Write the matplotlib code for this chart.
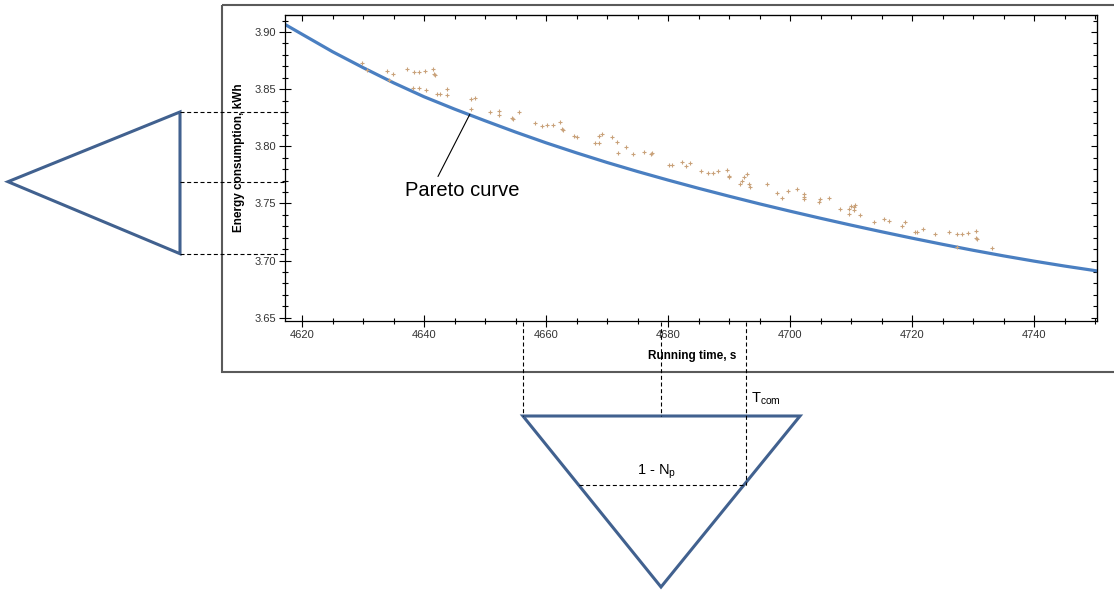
import matplotlib.pyplot as plt
from matplotlib.ticker import MultipleLocator, FormatStrFormatter, NullFormatter
from matplotlib.patches import Polygon, Rectangle

plt.rcParams['font.family'] = ['Liberation Sans', 'DejaVu Sans']
plt.rcParams['lines.scale_dashes'] = False
plt.rcParams['mathtext.default'] = 'regular'

# Pareto curve
curve_time = [4617, 4620, 4625, 4630, 4635, 4640, 4645, 4650, 4655, 4660,
              4665, 4670, 4675, 4680, 4685, 4690, 4695, 4700, 4705, 4710,
              4715, 4720, 4725, 4730, 4735, 4740, 4745, 4751]
curve_energy = [3.9072, 3.8980, 3.8827, 3.8688, 3.8555, 3.8433, 3.8325, 3.8223, 3.8124, 3.8030,
                3.7942, 3.7858, 3.7779, 3.7704, 3.7632, 3.7563, 3.7496, 3.7432, 3.7370, 3.7310,
                3.7252, 3.7196, 3.7142, 3.7090, 3.7041, 3.6995, 3.6952, 3.6904]

# simulated running points
sim_time = [4629.9, 4630.6, 4634.0, 4634.9, 4634.3, 4637.2, 4638.4, 4639.2, 4640.2, 4641.4,
            4641.6, 4641.8, 4638.1, 4639.2, 4640.3, 4642.1, 4642.6, 4643.8, 4643.7, 4647.7,
            4648.4, 4647.7, 4650.8, 4652.2, 4652.2, 4654.4, 4654.6, 4655.6, 4658.1, 4659.3,
            4660.2, 4661.1, 4662.3, 4662.6, 4662.7, 4664.6, 4665.0, 4668.6, 4669.1, 4668.0,
            4668.7, 4670.8, 4671.6, 4671.8, 4673.1, 4674.3, 4676.1, 4677.2, 4677.4, 4680.2,
            4680.7, 4682.3, 4683.0, 4683.6, 4685.4, 4686.6, 4687.4, 4688.2, 4689.6, 4689.9,
            4690.0, 4691.8, 4692.1, 4692.5, 4692.9, 4693.2, 4693.4, 4696.2, 4697.9, 4698.6,
            4699.7, 4701.1, 4702.2, 4702.3, 4702.2, 4704.7, 4704.9, 4706.4, 4708.1, 4709.6,
            4709.9, 4710.6, 4710.4, 4710.4, 4709.7, 4711.5, 4713.8, 4715.4, 4716.2, 4718.4,
            4718.9, 4720.4, 4720.8, 4721.7, 4723.8, 4726.1, 4727.4, 4728.2, 4729.1, 4730.4,
            4730.5, 4730.7, 4727.3, 4733.1]
sim_energy = [3.873, 3.867, 3.866, 3.863, 3.858, 3.868, 3.865, 3.865, 3.866, 3.868,
              3.863, 3.862, 3.851, 3.851, 3.849, 3.846, 3.846, 3.850, 3.845, 3.841,
              3.842, 3.833, 3.830, 3.831, 3.827, 3.825, 3.824, 3.830, 3.820, 3.818,
              3.819, 3.819, 3.821, 3.815, 3.814, 3.809, 3.808, 3.809, 3.811, 3.803,
              3.803, 3.808, 3.804, 3.794, 3.799, 3.793, 3.795, 3.793, 3.794, 3.784,
              3.784, 3.786, 3.783, 3.785, 3.778, 3.777, 3.777, 3.778, 3.779, 3.774,
              3.773, 3.767, 3.770, 3.773, 3.776, 3.767, 3.764, 3.767, 3.759, 3.755,
              3.761, 3.763, 3.758, 3.756, 3.754, 3.751, 3.754, 3.755, 3.745, 3.745,
              3.748, 3.749, 3.747, 3.744, 3.741, 3.740, 3.734, 3.736, 3.735, 3.730,
              3.734, 3.725, 3.725, 3.728, 3.723, 3.725, 3.723, 3.723, 3.724, 3.726,
              3.720, 3.719, 3.712, 3.711]

# levels picked out by the dashed guide lines
energy_marks = [3.830, 3.769, 3.706]
time_marks = [4656.2, 4678.9, 4692.7]

W, H = 1114, 592
fig = plt.figure(figsize=(W / 100, H / 100), dpi=100)

x0, x1, y0, y1 = 285, 1097, 14.7, 320.7
ax = fig.add_axes([x0 / W, 1 - y1 / H, (x1 - x0) / W, (y1 - y0) / H])
ax.plot(curve_time, curve_energy, color='#4a7fc1', lw=2.3, solid_capstyle='butt')
ax.plot(sim_time, sim_energy, ls='none', marker='+', ms=3, mew=0.8, color='#c9a27a')
ax.set_xlim(4617.2, 4750.3)
ax.set_ylim(3.6474, 3.9151)

ax.xaxis.set_major_locator(MultipleLocator(20))
ax.xaxis.set_minor_locator(MultipleLocator(5))
ax.yaxis.set_major_locator(MultipleLocator(0.05))
ax.yaxis.set_minor_locator(MultipleLocator(0.01))
ax.yaxis.set_major_formatter(FormatStrFormatter('%.2f'))
ax.tick_params(which='major', direction='inout', length=9, width=0.8,
               labelsize=8, labelcolor='#333333')
ax.tick_params(which='minor', direction='inout', length=5, width=0.8)
ax.tick_params(axis='x', which='major', pad=2)
ax.tick_params(axis='y', which='major', pad=2)
for s in ax.spines.values():
    s.set_linewidth(0.9)

top = ax.secondary_xaxis('top')
top.xaxis.set_major_locator(MultipleLocator(20))
top.xaxis.set_minor_locator(MultipleLocator(5))
top.xaxis.set_major_formatter(NullFormatter())
top.tick_params(which='major', direction='in', length=4, width=0.8)
top.tick_params(which='minor', direction='in', length=3, width=0.8)
right = ax.secondary_yaxis('right')
right.yaxis.set_major_locator(MultipleLocator(0.05))
right.yaxis.set_minor_locator(MultipleLocator(0.01))
right.yaxis.set_major_formatter(NullFormatter())
right.tick_params(which='major', direction='in', length=4, width=0.8)
right.tick_params(which='minor', direction='in', length=3, width=0.8)

ax.set_xlabel('Running time, s', fontsize=8.5, fontweight='bold', va='center')
ax.xaxis.set_label_coords(0.501, -0.115)
ax.set_ylabel('Energy consumption, kWh', fontsize=8.5, fontweight='bold',
              va='center', ha='center')
ax.yaxis.set_label_coords(-0.0563, 0.532)

ax.annotate('Pareto curve', xy=(4647.5, 3.828), xytext=(405, H - 190),
            textcoords='figure pixels', fontsize=14.5, ha='left', va='center',
            arrowprops=dict(arrowstyle='-', lw=0.8, color='black',
                            relpos=(0.27, 1.0), shrinkA=1, shrinkB=0))

# overlay in figure pixels (y down) for the diagram parts
ov = fig.add_axes([0, 0, 1, 1])
ov.set_xlim(0, W)
ov.set_ylim(H, 0)
ov.axis('off')
ov.patch.set_alpha(0)


def to_px(x, y):
    return ov.transData.inverted().transform(ax.transData.transform((x, y)))


ov.add_patch(Rectangle((222, 4.5), 910, 367, fill=False, lw=1.5,
                       edgecolor='#5a5a5a', clip_on=False))

tri_col = '#41618f'
dash = dict(color='black', lw=0.8, dashes=(2.9, 1.9))

# left triangle
ys = [to_px(4620, e)[1] for e in energy_marks]
left_tri = [(8, ys[1]), (180, ys[0]), (180, ys[2])]
ov.add_patch(Polygon(left_tri, closed=True, fill=False, lw=2.2,
                     edgecolor=tri_col, joinstyle='miter'))
for yy in ys:
    ov.plot([180, x0 + 1], [yy, yy], **dash)

# bottom triangle
xs = [to_px(t, 3.7)[0] for t in time_marks]
tri_top, tri_tip = 416, 587
right_x = 800
bot_tri = [(xs[0], tri_top), (right_x, tri_top), (661, tri_tip)]
ov.add_patch(Polygon(bot_tri, closed=True, fill=False, lw=2.2,
                     edgecolor=tri_col, joinstyle='miter'))
ov.plot([xs[0], xs[0]], [y1 + 1, tri_top], **dash)
ov.plot([xs[1], xs[1]], [y1 + 1, tri_top], **dash)
level = 485
frac = (level - tri_top) / (tri_tip - tri_top)
lx = xs[0] + frac * (661 - xs[0])
ov.plot([xs[2], xs[2]], [y1 + 1, level], **dash)
ov.plot([lx, xs[2]], [level, level], **dash)

ov.text(751, 399, r'T$_{com}$', fontsize=10.5, ha='left', va='center')
ov.text(657, 472, r'1 - N$_{p}$', fontsize=10.5, ha='center', va='center')

fig.savefig('out.png', dpi=100)
